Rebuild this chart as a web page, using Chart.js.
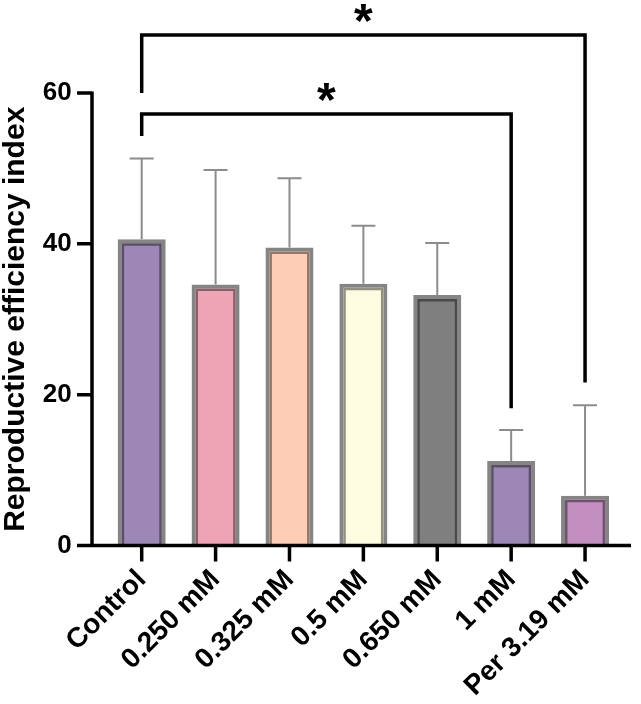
<!DOCTYPE html>
<html>
<head>
<meta charset="utf-8">
<script src="https://cdn.jsdelivr.net/npm/chart.js@4/dist/chart.umd.min.js"></script>
<style>
    html, body { margin: 0; padding: 0; background: #fff; }
    #wrap { width: 641px; height: 704px; position: relative; }
</style>
</head>
<body>
<div id="wrap"><canvas id="barChart"></canvas></div>
<script>
// Data
const groups = ['Control', '0.250 mM', '0.325 mM', '0.5 mM', '0.650 mM', '1 mM', 'Per 3.19 mM'];
const means = [40.6, 34.6, 39.5, 34.7, 33.2, 11.2, 6.6];
const sdUpper = [51.3, 49.8, 48.7, 42.4, 40.1, 15.3, 18.6];
const yTicks = [0, 20, 40, 60];
const fills = ['#9d87b6', '#eea4b4', '#fecdb5', '#fdfce0', '#7f7f7f', '#9d87b6', '#c38fc1'];

// Significance brackets: from group, to group, bar level, left/right leg ends (data units)
const brackets = [
    { from: 0, to: 5, level: 57.2, leftEnd: 54.3, rightEnd: 18.2, label: '*' },
    { from: 0, to: 6, level: 67.7, leftEnd: 60.0, rightEnd: 21.6, label: '*' }
];

const FONT = "'Liberation Sans', Arial, Helvetica, sans-serif";

// Axis lines, tick marks, error bars and brackets
const decorations = {
    id: 'decorations',
    afterDatasetsDraw(chart) {
        const { ctx, scales: { x, y } } = chart;
        const meta = chart.getDatasetMeta(0);
        const axisX = 92;
        const y0 = y.getPixelForValue(0);

        ctx.save();

        // error bars (upper only)
        ctx.strokeStyle = '#8c8c8c';
        ctx.lineWidth = 2;
        meta.data.forEach((bar, i) => {
            const top = y.getPixelForValue(sdUpper[i]);
            const base = y.getPixelForValue(means[i]);
            ctx.beginPath();
            ctx.moveTo(bar.x, base);
            ctx.lineTo(bar.x, top);
            ctx.moveTo(bar.x - 12, top);
            ctx.lineTo(bar.x + 12, top);
            ctx.stroke();
        });

        // dark inner edge of the bars
        ctx.strokeStyle = 'rgba(0,0,0,0.42)';
        ctx.lineWidth = 2.5;
        meta.data.forEach(bar => {
            const l = bar.x - bar.width / 2 + 5.2;
            const r = bar.x + bar.width / 2 - 5.2;
            const t = bar.y + 5.2;
            ctx.beginPath();
            ctx.moveTo(l, bar.base);
            ctx.lineTo(l, t);
            ctx.lineTo(r, t);
            ctx.lineTo(r, bar.base);
            ctx.stroke();
        });

        // axes
        ctx.strokeStyle = '#000';
        ctx.lineWidth = 3.5;
        ctx.lineCap = 'butt';
        ctx.beginPath();
        ctx.moveTo(axisX, y.getPixelForValue(60) - 1.5);
        ctx.lineTo(axisX, y0 + 1.75);
        ctx.moveTo(axisX - 1.75, y0);
        ctx.lineTo(631, y0);
        yTicks.forEach(v => {
            const py = y.getPixelForValue(v);
            ctx.moveTo(axisX - 15, py);
            ctx.lineTo(axisX, py);
        });
        meta.data.forEach(bar => {
            ctx.moveTo(bar.x, y0);
            ctx.lineTo(bar.x, y0 + 16);
        });
        ctx.stroke();

        // significance brackets
        ctx.lineWidth = 3.5;
        ctx.fillStyle = '#000';
        ctx.font = 'bold 48px ' + FONT;
        ctx.textAlign = 'center';
        ctx.textBaseline = 'alphabetic';
        brackets.forEach(b => {
            const xa = x.getPixelForValue(b.from);
            const xb = x.getPixelForValue(b.to);
            const yl = y.getPixelForValue(b.level);
            ctx.beginPath();
            ctx.moveTo(xa, y.getPixelForValue(b.leftEnd));
            ctx.lineTo(xa, yl);
            ctx.lineTo(xb, yl);
            ctx.lineTo(xb, y.getPixelForValue(b.rightEnd));
            ctx.stroke();
            ctx.fillText(b.label, (xa + xb) / 2, yl + 2);
        });

        ctx.restore();
    }
};

new Chart(document.getElementById('barChart'), {
    type: 'bar',
    data: {
        labels: groups,
        datasets: [{
            data: means,
            backgroundColor: fills,
            borderColor: '#858585',
            borderWidth: 4,
            borderSkipped: 'start',
            categoryPercentage: 0.65,
            barPercentage: 1
        }]
    },
    options: {
        responsive: true,
        maintainAspectRatio: false,
        animation: false,
        layout: { padding: { top: 93, right: 19, left: 0, bottom: 0 } },
        plugins: {
            legend: { display: false },
            tooltip: { enabled: false }
        },
        scales: {
            x: {
                grid: { display: false, drawTicks: false },
                border: { display: false },
                ticks: {
                    color: '#000',
                    font: { family: FONT, size: 28, weight: 'bold' },
                    maxRotation: 45,
                    minRotation: 45,
                    autoSkip: false,
                    padding: 18
                },
                afterFit: s => { s.height = 158.5; }
            },
            y: {
                min: 0,
                max: 60,
                grid: { display: false, drawTicks: false },
                border: { display: false },
                ticks: {
                    stepSize: 20,
                    color: '#000',
                    font: { family: FONT, size: 26, weight: 'bold' },
                    padding: 33
                },
                title: {
                    display: true,
                    text: 'Reproductive efficiency index',
                    color: '#000',
                    font: { family: FONT, size: 30, weight: 'bold' },
                    padding: { top: -2, bottom: 0 }
                },
                afterFit: s => { s.width = 104.75; }
            }
        }
    },
    plugins: [decorations]
});
</script>
</body>
</html>
